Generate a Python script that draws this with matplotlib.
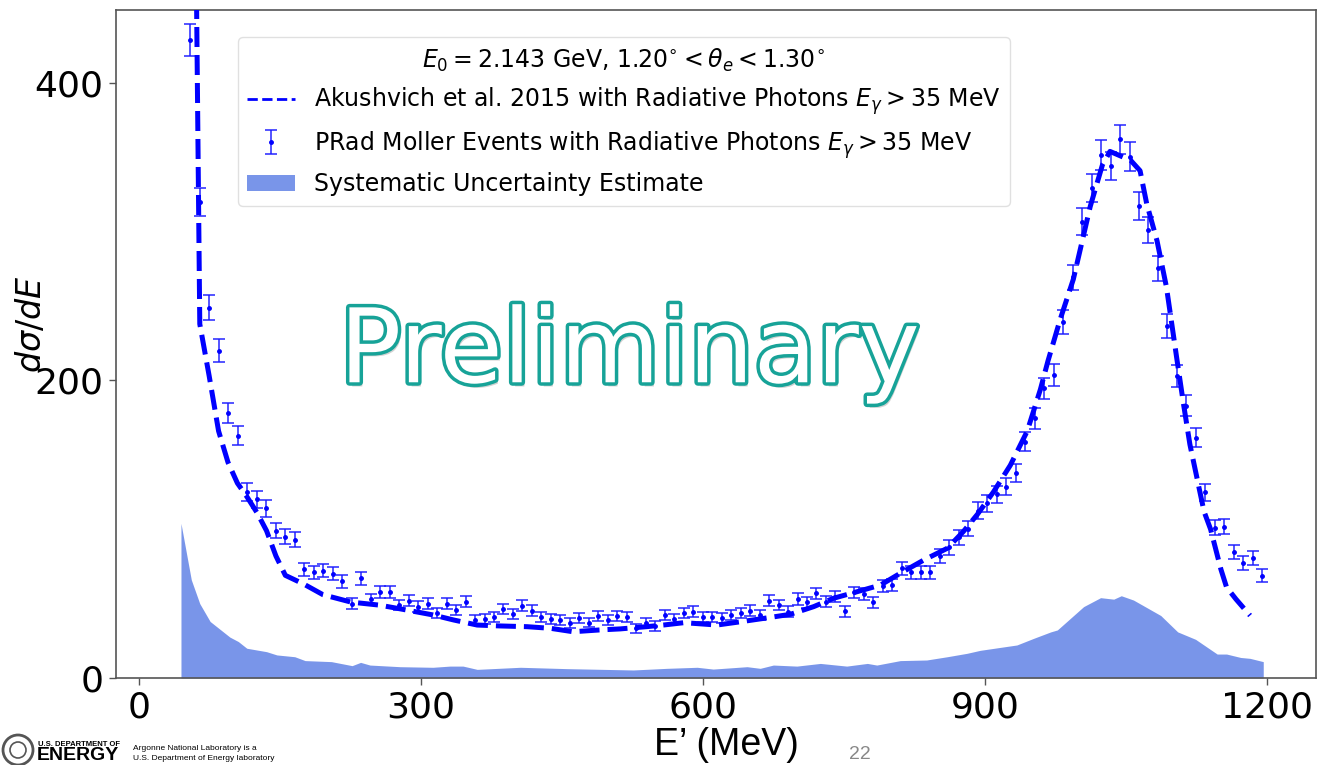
import matplotlib
matplotlib.use("Agg")
import matplotlib.pyplot as plt
from matplotlib.lines import Line2D
from matplotlib.patches import Ellipse
import matplotlib.patheffects as pe

# --- PRad Moller data points (bin centre E' in MeV, dsigma/dE, stat. error) ---
data_e = [55.0, 65.1, 75.2, 85.3, 95.4, 105.5, 115.6, 125.7, 135.7, 145.8,
          155.9, 166.0, 176.1, 186.2, 196.3, 206.4, 216.4, 226.5, 236.6, 246.7,
          256.8, 266.9, 277.0, 287.1, 297.2, 307.2, 317.3, 327.4, 337.5, 347.6,
          357.7, 367.8, 377.9, 387.9, 398.0, 408.1, 418.2, 428.3, 438.4, 448.5,
          458.6, 468.6, 478.7, 488.8, 498.9, 509.0, 519.1, 529.2, 539.3, 549.4,
          559.4, 569.5, 579.6, 589.7, 599.8, 609.9, 620.0, 630.1, 640.1, 650.2,
          660.3, 670.4, 680.5, 690.6, 700.7, 710.8, 720.8, 730.9, 741.0, 751.1,
          761.2, 771.3, 781.4, 791.5, 801.6, 811.6, 821.7, 831.8, 841.9, 852.0,
          862.1, 872.2, 882.3, 892.3, 902.4, 912.5, 922.6, 932.7, 942.8, 952.9,
          963.0, 973.1, 983.1, 993.2, 1003.3, 1013.4, 1023.5, 1033.6, 1043.7, 1053.8,
          1063.8, 1073.9, 1084.0, 1094.1, 1104.2, 1114.3, 1124.4, 1134.5, 1144.6, 1154.6,
          1164.7, 1174.8, 1184.9, 1195.0]
data_y = [429, 320, 249, 220, 178, 163, 125, 120, 114, 99,
          95, 93, 73, 71, 72, 70, 65, 50, 67, 53,
          58, 58, 49, 52, 48, 50, 43.5, 50, 45.7, 51.3,
          39, 39.4, 41.2, 46.2, 43, 48.6, 45.3, 41.2, 39.7, 39,
          36.8, 40.1, 37.2, 41.9, 39, 41.9, 41.2, 33.4, 37.2, 35,
          42.4, 39.4, 43.5, 44.6, 41.2, 41.2, 40.1, 42.4, 43.5, 45.3,
          42.4, 52, 49, 44.6, 53.1, 50.9, 56.9, 51.3, 54.7, 44.8,
          57.6, 56.5, 50.9, 61.8, 62.5, 73.7, 71, 71, 71, 82,
          87.9, 94.6, 100.5, 112.5, 117.4, 123.5, 128.6, 138, 158.9, 174.6,
          194.7, 204, 239.5, 269.4, 306.8, 329.2, 351.6, 344.2, 362.1, 350.5,
          317.3, 301.2, 275.4, 236.6, 203, 183, 161.6, 124.8, 101, 101.7,
          84.8, 77.1, 80.5, 68.8]
data_err = [10.8, 9.3, 8.2, 7.7, 6.9, 6.6, 5.8, 5.7, 5.6, 5.2,
            5.1, 5.0, 4.4, 4.4, 4.4, 4.4, 4.2, 3.7, 4.3, 3.8,
            4.0, 4.0, 3.6, 3.7, 3.6, 3.7, 3.4, 3.7, 3.5, 3.7,
            3.2, 3.3, 3.3, 3.5, 3.4, 3.6, 3.5, 3.3, 3.3, 3.2,
            3.2, 3.3, 3.2, 3.4, 3.2, 3.4, 3.3, 3.0, 3.2, 3.1,
            3.4, 3.3, 3.4, 3.5, 3.3, 3.3, 3.3, 3.4, 3.4, 3.5,
            3.4, 3.7, 3.6, 3.5, 3.8, 3.7, 3.9, 3.7, 3.8, 3.5,
            3.9, 3.9, 3.7, 4.1, 4.1, 4.5, 4.4, 4.4, 4.4, 4.7,
            4.9, 5.1, 5.2, 5.5, 5.6, 5.8, 5.9, 6.1, 6.6, 6.9,
            7.3, 7.4, 8.0, 8.5, 9.1, 9.4, 9.8, 9.6, 9.9, 9.7,
            9.3, 9.0, 8.6, 8.0, 7.4, 7.0, 6.6, 5.8, 5.2, 5.2,
            4.8, 4.6, 4.7, 4.3]

# --- Akushevich et al. 2015 calculation ---
theory_e = [55, 65, 75, 85, 95, 105, 115, 126, 136, 146, 156, 176, 196, 226,
            256, 278, 313, 335, 360, 384, 413, 438, 462, 490, 512, 540, 558,
            580, 615, 640, 665, 693, 718, 739, 764, 789, 810, 835, 860, 877,
            892, 909, 927, 945, 959, 967, 980, 994, 1012, 1025, 1033, 1055,
            1065, 1072, 1083, 1093, 1104, 1111, 1118, 1126, 1133, 1140, 1151,
            1157, 1167, 1182]
theory_y = [870, 238, 203, 166, 145, 131, 122, 111, 99, 82, 69, 63, 56, 51,
            49, 46.5, 42.4, 39, 35.6, 35, 34.5, 33.4, 31.1, 32.3, 33, 34.5, 35.6,
            37.2, 35.6, 37.8, 40.1, 42.8, 48, 53.6, 58, 62.5, 70.4, 79.3, 87.2, 98.4,
            110, 125, 143, 166, 194, 213, 241, 268, 317, 345, 354, 348,
            341, 319, 294, 263, 215, 185, 157, 133, 112, 100, 73,
            61, 53, 42]

# --- systematic uncertainty band ---
sys_e = [45, 56, 65, 76, 86, 97, 106, 115, 136, 147, 166, 177, 205, 227, 236,
         246, 278, 313, 331, 345, 360, 406, 455, 526, 562, 594, 611, 647, 661,
         675, 700, 725, 753, 775, 785, 810, 838, 860, 881, 895, 934, 952, 970,
         977, 1005, 1023, 1037, 1045, 1058, 1087, 1105, 1124, 1147, 1157, 1172,
         1182, 1196]
sys_y = [104, 66, 50, 38, 33, 27.5, 24.5, 20, 17.7, 15.5, 14.3, 11.7, 11, 8.3, 10.5,
         8.7, 7.6, 7.2, 8, 8, 5.8, 7.2, 6.3, 5.4, 6.5, 7.2, 6, 7.6, 6.5,
         8.7, 8, 9.8, 8, 9.8, 8.7, 11.7, 12.1, 14.3, 16.6, 18.6, 22.2, 26.7, 31,
         32.3, 48, 54, 53, 55.3, 52.4, 42, 31, 26, 16.1, 16.1, 13.8,
         13.2, 11]

fig = plt.figure(figsize=(13.18, 7.65), dpi=100)
ax = fig.add_axes([116 / 1318, 87 / 765, 1200 / 1318, 668.5 / 765])

band = ax.fill_between(sys_e, 0, sys_y, color="royalblue", alpha=0.7, lw=0, zorder=1)
pts = ax.errorbar(data_e, data_y, yerr=data_err, fmt=".", color="blue", ms=5,
                  ecolor=(0.1, 0.1, 1.0, 0.75), elinewidth=1.4, capsize=4.5,
                  capthick=1.4, zorder=2)
ax.plot(theory_e, theory_y, color="blue", lw=3.6, ls=(0, (4, 1.6)), zorder=3)

ax.set_xlim(-24.1, 1252.1)
ax.set_ylim(0, 449.4)
ax.set_xticks([0, 300, 600, 900, 1200])
ax.set_yticks([0, 200, 400])
ax.tick_params(labelsize=26, length=5, width=1, color="#555555", pad=4)
for s in ax.spines.values():
    s.set_color("#555555")
    s.set_linewidth(1.2)

ax.set_ylabel(r"$d\sigma/dE$", fontsize=24)
ax.yaxis.set_label_coords(-0.057, 0.53)
ax.set_xlabel("E\u2019 (MeV)", fontsize=27, family="Liberation Sans")
ax.xaxis.set_label_coords(0.509, -0.073)

theory_handle = Line2D([], [], color="blue", lw=2, ls="--")
leg = ax.legend([theory_handle, pts, band],
                [r"Akushvich et al. 2015 with Radiative Photons $E_{\gamma} > 35$ MeV",
                 r"PRad Moller Events with Radiative Photons $E_{\gamma} > 35$ MeV",
                 "Systematic Uncertainty Estimate"],
                title=r"$E_0 = 2.143$ GeV, $1.20^{\circ} < \theta_e < 1.30^{\circ}$",
                loc="upper left", bbox_to_anchor=(0.1017, 0.959), borderaxespad=0,
                fontsize=17, title_fontsize=17, framealpha=0.9, edgecolor="#dddddd")

ax.text(0.428, 0.485, "Preliminary", transform=ax.transAxes, ha="center",
        va="center", fontsize=74, color="white", zorder=5,
        path_effects=[pe.SimplePatchShadow(offset=(2, -3), alpha=0.25),
                      pe.Stroke(linewidth=5, foreground="#17a398"), pe.Normal()])

# slide footer
fig.text(860 / 1318, 1 - 746 / 765, "22", fontsize=14, color="#888888",
         ha="center", va="top", family="Liberation Sans")
fig.patches.append(Ellipse((18 / 1318, 1 - 750 / 765), 30 / 1318, 30 / 765,
                           transform=fig.transFigure, facecolor="white",
                           edgecolor="#555555", lw=2))
fig.patches.append(Ellipse((18 / 1318, 1 - 750 / 765), 16 / 1318, 16 / 765,
                           transform=fig.transFigure, facecolor="white",
                           edgecolor="#555555", lw=1.2))
fig.text(38 / 1318, 1 - 744 / 765, "U.S. DEPARTMENT OF", fontsize=5.5,
         weight="bold", va="center", family="Liberation Sans")
fig.text(37 / 1318, 1 - 764 / 765, "ENERGY", fontsize=14, weight="bold",
         va="bottom", family="Liberation Sans")
fig.text(133 / 1318, 1 - 749 / 765, "Argonne National Laboratory is a", fontsize=6,
         va="center", family="Liberation Sans")
fig.text(133 / 1318, 1 - 759 / 765, "U.S. Department of Energy laboratory", fontsize=6,
         va="center", family="Liberation Sans")

fig.savefig("out.png", dpi=100)
